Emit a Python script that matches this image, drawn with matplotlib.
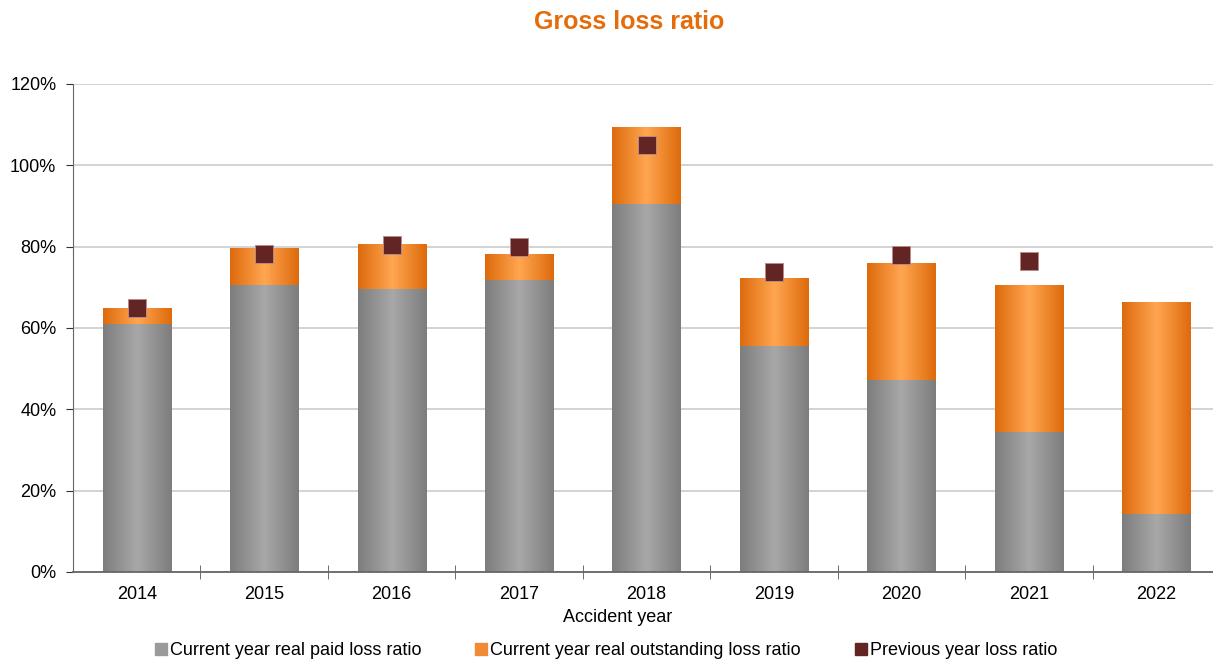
import matplotlib.pyplot as plt
import numpy as np
from matplotlib.colors import LinearSegmentedColormap
from matplotlib.lines import Line2D
from matplotlib.ticker import FixedLocator, PercentFormatter

plt.rcParams['font.family'] = ['Liberation Sans', 'DejaVu Sans']

anios = ['2014', '2015', '2016', '2017', '2018', '2019', '2020', '2021', '2022']
pagado = [61.0, 70.6, 69.6, 71.8, 90.5, 55.6, 47.2, 34.4, 14.3]
pendiente = [3.9, 9.1, 11.1, 6.4, 19.0, 16.7, 28.8, 36.2, 52.1]
anterior = [64.8, 78.1, 80.5, 79.9, 105.1, 73.8, 78.0, 76.5, None]

naranja = '#E46C0A'
granate = '#632523'

gris_cmap = LinearSegmentedColormap.from_list('gris', ['#7d7d7d', '#a8a8a8', '#7d7d7d'])
naranja_cmap = LinearSegmentedColormap.from_list('nar', ['#dd6a0c', '#ffa650', '#dd6a0c'])

fig = plt.figure(figsize=(12.13, 6.6), dpi=100)
ax = fig.add_axes([73/1213, 88/660, 1147/1213, 488/660])

x = np.arange(len(anios))
ancho = 0.535

barras1 = ax.bar(x, pagado, ancho, color='none', zorder=2)
barras2 = ax.bar(x, pendiente, ancho, bottom=pagado, color='none', zorder=2)

# relleno con degradado horizontal en cada barra
grad = np.linspace(0, 1, 256).reshape(1, -1)
for barras, cmap in [(barras1, gris_cmap), (barras2, naranja_cmap)]:
    for b in barras:
        x0, y0 = b.get_x(), b.get_y()
        img = ax.imshow(grad, cmap=cmap, aspect='auto', zorder=2,
                        extent=[x0, x0 + b.get_width(), y0, y0 + b.get_height()])
        img.set_clip_path(b)

xs = [i for i, v in enumerate(anterior) if v is not None]
ys = [v for v in anterior if v is not None]
ax.plot(xs, ys, 's', color=granate, markersize=12.5, markeredgecolor='#b98a88',
        markeredgewidth=0.7, zorder=4)

ax.set_xlim(-0.5, len(anios) - 0.5)
ax.set_ylim(0, 120)
ax.yaxis.set_major_locator(FixedLocator(np.arange(0, 121, 20)))
ax.yaxis.set_major_formatter(PercentFormatter(decimals=0))
ax.grid(axis='y', color='#c8c8c8', linewidth=1.1, zorder=0)
ax.set_axisbelow(True)

ax.set_xticks(x)
ax.set_xticklabels(anios)
ax.set_xticks(np.arange(0.5, len(anios) - 0.5, 1), minor=True)
ax.tick_params(axis='x', which='major', length=0, labelsize=13, pad=10)
ax.tick_params(axis='x', which='minor', direction='inout', length=10, color='#555555')
ax.tick_params(axis='y', direction='out', length=5, labelsize=13, color='#333333', pad=7)

for lado in ['top', 'right']:
    ax.spines[lado].set_visible(False)
ax.spines['left'].set_color('#666666')
ax.spines['bottom'].set_color('#666666')
ax.spines['bottom'].set_linewidth(1.3)

ax.set_xlabel('Accident year', fontsize=13)
ax.xaxis.set_label_coords(0.475, -0.075)
fig.text(0.519, 0.967, 'Gross loss ratio', ha='center', va='center', fontsize=18,
         fontweight='bold', color=naranja)

handles = [
    Line2D([], [], marker='s', linestyle='none', color='#9a9a9a', markersize=8),
    Line2D([], [], marker='s', linestyle='none', color='#f08a35', markersize=8),
    Line2D([], [], marker='s', linestyle='none', color=granate, markersize=8),
]
labels = ['Current year real paid loss ratio', 'Current year real outstanding loss ratio',
          'Previous year loss ratio']
fig.legend(handles, labels, loc='center', bbox_to_anchor=(0.5, 0.014), ncol=3,
           frameon=False, fontsize=13, handlelength=0.6, handletextpad=0.2,
           columnspacing=3.0)

fig.savefig('out.png', dpi=100)
